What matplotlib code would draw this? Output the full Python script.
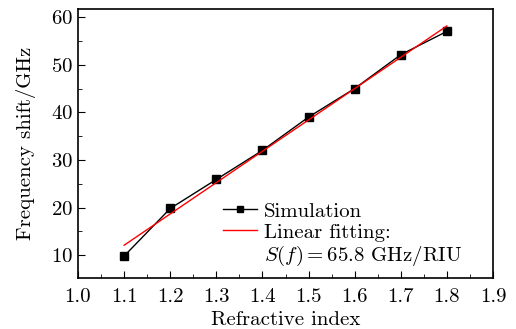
import matplotlib
matplotlib.use("Agg")
import matplotlib.pyplot as plt
import numpy as np
from matplotlib.ticker import MultipleLocator
from matplotlib.lines import Line2D

plt.rcParams['font.family'] = 'cmr10'
plt.rcParams['mathtext.fontset'] = 'cm'
plt.rcParams['axes.formatter.use_mathtext'] = True

refractive_index = [1.1, 1.2, 1.3, 1.4, 1.5, 1.6, 1.7, 1.8]
freq_shift = [9.8, 19.8, 25.9, 32.0, 39.0, 45.0, 52.1, 57.0]
fit_slope = 65.8
fit_intercept = -60.3
x_ticks = [1.0, 1.1, 1.2, 1.3, 1.4, 1.5, 1.6, 1.7, 1.8, 1.9]
y_ticks = [10, 20, 30, 40, 50, 60]

FS = 15
fig = plt.figure(figsize=(5.16, 3.29), dpi=100)
ax = fig.add_axes([78/516, 1-278/329, (493-78)/516, (278-9)/329])

h1, = ax.plot(refractive_index, freq_shift, color='black', lw=1.0, marker='s',
              markersize=6, markerfacecolor='black')
xf = np.array([refractive_index[0], refractive_index[-1]])
h2, = ax.plot(xf, fit_slope*xf + fit_intercept, color='red', lw=1.0)

ax.set_xlim(1.0, 1.9)
ax.set_ylim(5.2, 61.7)
ax.set_xticks(x_ticks)
ax.set_yticks(y_ticks)
ax.xaxis.set_minor_locator(MultipleLocator(0.05))
ax.yaxis.set_minor_locator(MultipleLocator(5))
ax.tick_params(which='both', direction='in', top=False, right=False, labelsize=FS)
ax.tick_params(which='major', length=5)
ax.tick_params(which='minor', length=3)
ax.tick_params(axis='x', which='major', pad=7)
ax.set_xticklabels([f"{v:.1f}" for v in x_ticks])
for s in ax.spines.values():
    s.set_linewidth(1.2)

ax.set_xlabel('Refractive index', fontsize=FS, labelpad=4)
ax.set_ylabel('Frequency shift/GHz', fontsize=FS, labelpad=11)

h1l = Line2D([], [], color='black', lw=1.0, marker='s', markersize=4)
blank = Line2D([], [], color='none')
leg = ax.legend([h1l, h2, blank],
                ['Simulation', 'Linear fitting:', '$S(f) = 65.8$ GHz/RIU'],
                loc='lower left', frameon=False, fontsize=FS,
                handlelength=1.6, handletextpad=0.35, labelspacing=0.12,
                bbox_to_anchor=(0.33, 0.005), borderaxespad=0.0)

fig.savefig('out.png', dpi=100)
